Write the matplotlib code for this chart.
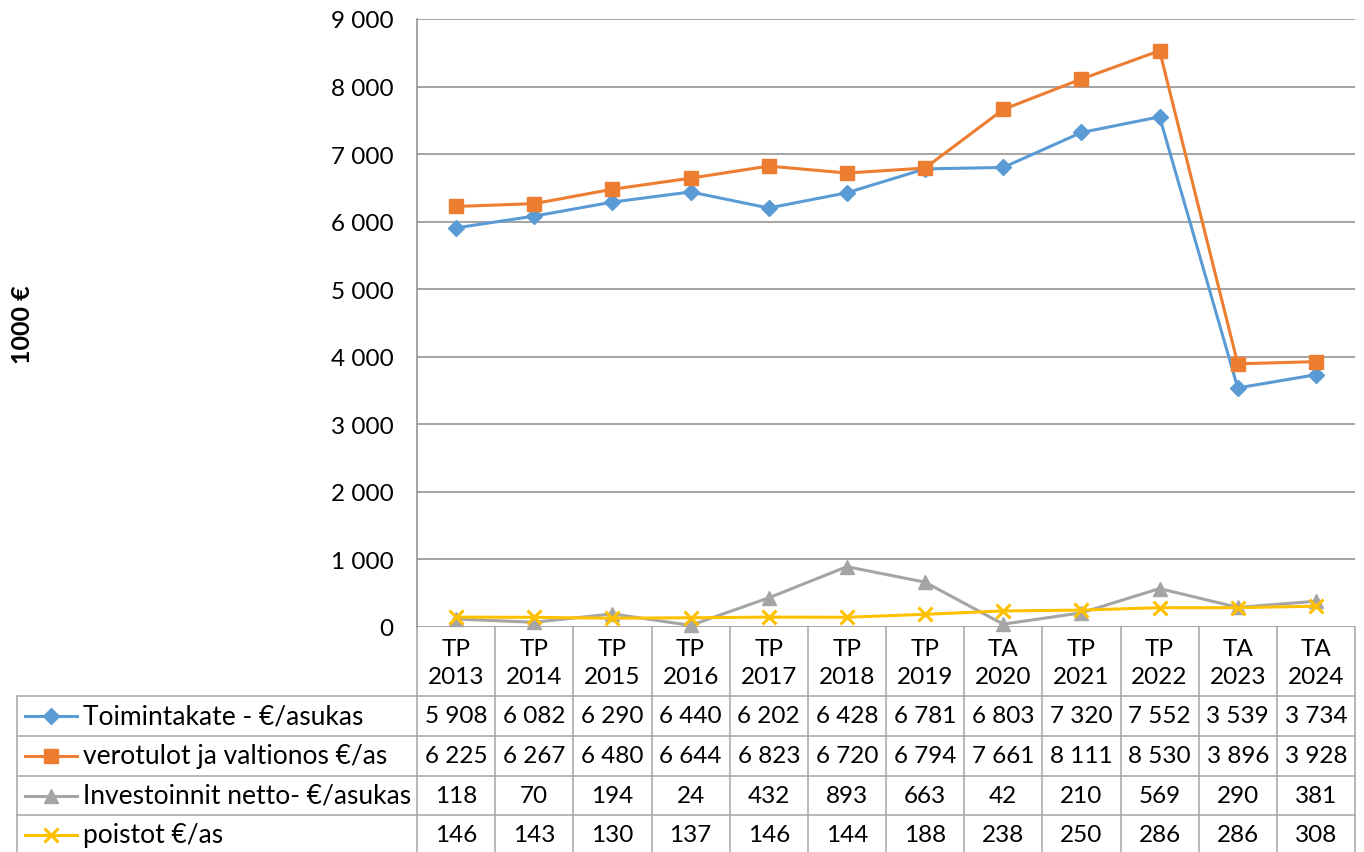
import numpy as np
import matplotlib
matplotlib.use('Agg')
import matplotlib.pyplot as plt
import matplotlib.transforms as mtrans
from matplotlib.lines import Line2D
from matplotlib.ticker import FuncFormatter, MultipleLocator

plt.rcParams['font.family'] = ['Lato', 'DejaVu Sans']

### Dati
kategoriat = ['TP\n2013', 'TP\n2014', 'TP\n2015', 'TP\n2016', 'TP\n2017', 'TP\n2018',
              'TP\n2019', 'TA\n2020', 'TP\n2021', 'TP\n2022', 'TA\n2023', 'TA\n2024']
toimintakate = [5908, 6082, 6290, 6440, 6202, 6428, 6781, 6803, 7320, 7552, 3539, 3734]
verotulot = [6225, 6267, 6480, 6644, 6823, 6720, 6794, 7661, 8111, 8530, 3896, 3928]
investoinnit = [118, 70, 194, 24, 432, 893, 663, 42, 210, 569, 290, 381]
poistot = [146, 143, 130, 137, 146, 144, 188, 238, 250, 286, 286, 308]

nimet = ['Toimintakate - €/asukas', 'verotulot ja valtionos €/as',
         'Investoinnit netto- €/asukas', 'poistot €/as']

### Parametri
W, H = 1364, 853
colori = ['#5B9BD5', '#ED7D31', '#A5A5A5', '#FFC000']
markers = ['D', 's', '^', 'x']
msizes = [8, 9.5, 9.5, 10]
colore_griglia = '#8C8C8C'
colore_tabella = '#A6A6A6'
fs = 17.5
fs_nomi = 19

ax_left, ax_right, ax_top, ax_bottom = 417, 1355, 20, 628
righe = [628, 697, 737, 777, 816, 856]   # bordi righe tabella (px)
tab_left = 17

fig = plt.figure(figsize=(W / 100, H / 100), dpi=100)
ax = fig.add_axes([ax_left / W, 1 - ax_bottom / H, (ax_right - ax_left) / W, (ax_bottom - ax_top) / H])

serie = [toimintakate, verotulot, investoinnit, poistot]
x = np.arange(len(kategoriat))
for s, c, m, ms in zip(serie, colori, markers, msizes):
    ax.plot(x, s, color=c, lw=2.2, marker=m, ms=ms, mec=c, mfc=c,
            mew=2.2 if m == 'x' else 1, zorder=3, clip_on=False)

ax.set_xlim(-0.5, len(kategoriat) - 0.5)
ax.set_ylim(0, 9000)
ax.yaxis.set_major_locator(MultipleLocator(1000))
ax.yaxis.set_major_formatter(FuncFormatter(lambda v, p: f'{int(v):,}'.replace(',', ' ')))
ax.set_xticks([])
ax.tick_params(axis='y', length=0, pad=17, labelsize=fs)
ax.grid(axis='y', color=colore_griglia, lw=1.1)
ax.set_axisbelow(True)
for sp in ['top', 'right', 'bottom']:
    ax.spines[sp].set_visible(False)
ax.spines['left'].set_color(colore_griglia)
ax.spines['left'].set_linewidth(1.1)

fig.text(22 / W, 1 - 325 / H, '1000 €', rotation=90, ha='center', va='center',
         fontsize=18, fontweight='bold')

### Tabella
tr = mtrans.blended_transform_factory(ax.transData, fig.transFigure)
fy = lambda py: 1 - py / H
fx = lambda px: px / W

# linee orizzontali
for r in righe[1:-1]:
    fig.add_artist(Line2D([fx(tab_left), fx(ax_right)], [fy(r), fy(r)], color=colore_tabella, lw=1.1))
# linee verticali
for b in np.arange(len(kategoriat) + 1) - 0.5:
    ax.add_line(Line2D([b, b], [fy(righe[0]), fy(righe[-1])], transform=tr, color=colore_tabella,
                       lw=1.1, clip_on=False))
fig.add_artist(Line2D([fx(tab_left), fx(tab_left)], [fy(righe[1]), fy(righe[-1])], color=colore_tabella, lw=1.1))

# intestazione
for i, k in enumerate(kategoriat):
    ax.text(i, fy((righe[0] + righe[1]) / 2 + 1), k, transform=tr, ha='center', va='center',
            fontsize=fs, linespacing=1.4)

# righe dati
for j, (s, nome, c, m, ms) in enumerate(zip(serie, nimet, colori, markers, msizes)):
    yc = fy((righe[j + 1] + righe[j + 2]) / 2)
    for i, v in enumerate(s):
        ax.text(i, yc, f'{v:,}'.replace(',', ' '), transform=tr, ha='center', va='center', fontsize=fs)
    fig.add_artist(Line2D([fx(25), fx(77)], [yc, yc], color=c, lw=2.2))
    fig.add_artist(Line2D([fx(51)], [yc], color=c, marker=m, ms=ms, mec=c, mfc=c,
                          mew=2.2 if m == 'x' else 1))
    fig.text(fx(83), yc, nome, ha='left', va='center', fontsize=fs_nomi)

plt.savefig('out.png', dpi=100)
plt.close()
